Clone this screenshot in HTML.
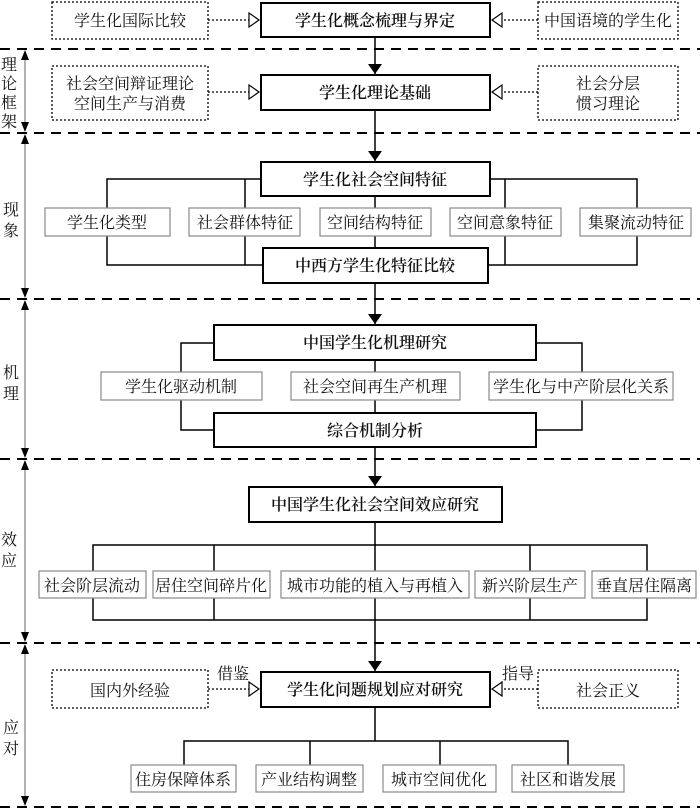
<!DOCTYPE html>
<html><head><meta charset="utf-8"><style>
html,body{margin:0;padding:0;background:#fff;}
svg{display:block;}
text{font-family:"Liberation Serif","Noto Serif CJK SC",serif;fill:#111;}
</style></head><body>
<svg width="700" height="809" viewBox="0 0 700 809" xmlns="http://www.w3.org/2000/svg">
<defs>
<marker id="fa" markerWidth="10" markerHeight="14" refX="10" refY="7" orient="auto" markerUnits="userSpaceOnUse"><path d="M0,0 L10,7 L0,14 Z" fill="#000"/></marker>
<marker id="ha" markerWidth="12" markerHeight="16" refX="12" refY="8" orient="auto" markerUnits="userSpaceOnUse"><path d="M1,1 L11,8 L1,15 Z" fill="#fff" stroke="#000" stroke-width="1.2"/></marker>
</defs>
<g stroke="#000" stroke-width="2" stroke-dasharray="10,7">
<line x1="0" y1="49" x2="700" y2="49"/><line x1="0" y1="133" x2="700" y2="133"/>
<line x1="0" y1="299" x2="700" y2="299"/><line x1="0" y1="459" x2="700" y2="459"/>
<line x1="0" y1="643" x2="700" y2="643"/><line x1="0" y1="807" x2="700" y2="807"/>
</g>
<g stroke="#666" stroke-width="1">
<line x1="25" y1="51" x2="25" y2="131"/><line x1="25" y1="135" x2="25" y2="297"/>
<line x1="25" y1="301" x2="25" y2="457"/><line x1="25" y1="461" x2="25" y2="641"/>
<line x1="25" y1="645" x2="25" y2="805"/>
</g>
<g fill="#000">
<path d="M25,50 l-4,10 h8z"/><path d="M25,132 l-4,-10 h8z"/>
<path d="M25,134 l-4,10 h8z"/><path d="M25,298 l-4,-10 h8z"/>
<path d="M25,300 l-4,10 h8z"/><path d="M25,458 l-4,-10 h8z"/>
<path d="M25,460 l-4,10 h8z"/><path d="M25,642 l-4,-10 h8z"/>
<path d="M25,644 l-4,10 h8z"/><path d="M25,806 l-4,-10 h8z"/>
</g>
<g font-size="16" text-anchor="middle">
<text x="9" y="70">理</text><text x="9" y="89">论</text><text x="9" y="108">框</text><text x="9" y="127">架</text>
<text x="11" y="215">现</text><text x="11" y="236">象</text>
<text x="11" y="378">机</text><text x="11" y="399">理</text>
<text x="9" y="545">效</text><text x="9" y="566">应</text>
<text x="11" y="733">应</text><text x="11" y="754">对</text>
</g>
<g stroke="#000" stroke-width="1.5" fill="none">
<line x1="375" y1="37" x2="375" y2="74" marker-end="url(#fa)"/>
<line x1="375" y1="110" x2="375" y2="161" marker-end="url(#fa)"/>
<line x1="375" y1="283" x2="375" y2="324" marker-end="url(#fa)"/>
<line x1="375" y1="447" x2="375" y2="486" marker-end="url(#fa)"/>
<line x1="375" y1="620" x2="375" y2="671" marker-end="url(#fa)"/>
<polyline points="261,179 107,179 107,265 263,265"/>
<polyline points="490,179 637,179 637,265 488,265"/>
<line x1="245" y1="179" x2="245" y2="265"/><line x1="505" y1="179" x2="505" y2="265"/>
<line x1="375" y1="196" x2="375" y2="248"/>
<polyline points="214,343 181,343 181,430 214,430"/>
<polyline points="536,343 582,343 582,430 536,430"/>
<line x1="375" y1="360" x2="375" y2="413"/>
<line x1="375" y1="522" x2="375" y2="620"/>
<polyline points="93,571 93,545 647,545 647,571"/>
<line x1="214" y1="545" x2="214" y2="571"/><line x1="530" y1="545" x2="530" y2="571"/>
<polyline points="93,598 93,620 647,620 647,598"/>
<line x1="214" y1="598" x2="214" y2="620"/><line x1="530" y1="598" x2="530" y2="620"/>
<line x1="375" y1="707" x2="375" y2="741"/>
<polyline points="184,765 184,741 568,741 568,765"/>
<line x1="310" y1="741" x2="310" y2="765"/><line x1="440" y1="741" x2="440" y2="765"/>
</g>
<g stroke="#000" stroke-width="1.3" stroke-dasharray="2,2" fill="#fff">
<rect x="52" y="2" width="156" height="37"/><rect x="538" y="2" width="140" height="37"/>
<rect x="52" y="66" width="156" height="54"/><rect x="538" y="66" width="140" height="54"/>
<rect x="52" y="670" width="156" height="38"/><rect x="538" y="670" width="140" height="38"/>
<line x1="208" y1="20" x2="260" y2="20" marker-end="url(#ha)"/><line x1="538" y1="20" x2="491" y2="20" marker-end="url(#ha)"/>
<line x1="208" y1="92" x2="260" y2="92" marker-end="url(#ha)"/><line x1="538" y1="92" x2="491" y2="92" marker-end="url(#ha)"/>
<line x1="208" y1="689" x2="260" y2="689" marker-end="url(#ha)"/><line x1="538" y1="689" x2="491" y2="689" marker-end="url(#ha)"/>
</g>
<g stroke="#000" stroke-width="2" fill="#fff">
<rect x="261" y="3" width="229" height="34"/>
<rect x="261" y="75" width="229" height="35"/>
<rect x="261" y="162" width="229" height="34"/>
<rect x="263" y="248" width="225" height="35"/>
<rect x="214" y="325" width="322" height="35"/>
<rect x="214" y="413" width="322" height="34"/>
<rect x="249" y="487" width="253" height="35"/>
<rect x="261" y="672" width="229" height="35"/>
</g>
<g stroke="#888" stroke-width="1.2" fill="#fff">
<rect x="45" y="208" width="125" height="28"/><rect x="189" y="208" width="111" height="28"/>
<rect x="320" y="208" width="111" height="28"/><rect x="450" y="208" width="111" height="28"/>
<rect x="580" y="208" width="111" height="28"/>
<rect x="101" y="372" width="161" height="28"/><rect x="291" y="372" width="169" height="28"/>
<rect x="489" y="372" width="184" height="28"/>
<rect x="39" y="571" width="107" height="27"/><rect x="153" y="571" width="117" height="27"/>
<rect x="281" y="571" width="188" height="27"/><rect x="475" y="571" width="110" height="27"/>
<rect x="592" y="571" width="104" height="27"/>
<rect x="131" y="765" width="105" height="27"/><rect x="256" y="765" width="107" height="27"/>
<rect x="383" y="765" width="113" height="27"/><rect x="512" y="765" width="112" height="27"/>
</g>
<g font-size="16" text-anchor="middle">
<text x="130" y="26">学生化国际比较</text><text x="608" y="26">中国语境的学生化</text>
<text x="130" y="89">社会空间辩证理论</text><text x="130" y="109">空间生产与消费</text>
<text x="608" y="89">社会分层</text><text x="608" y="109">惯习理论</text>
<text x="130" y="696">国内外经验</text><text x="608" y="696">社会正义</text>
<text x="233" y="679">借鉴</text><text x="518" y="679">指导</text>
</g>
<g font-size="16" font-weight="600" text-anchor="middle">
<text x="375" y="26">学生化概念梳理与界定</text>
<text x="375" y="98">学生化理论基础</text>
<text x="375" y="185">学生化社会空间特征</text>
<text x="375" y="271">中西方学生化特征比较</text>
<text x="375" y="348">中国学生化机理研究</text>
<text x="375" y="436">综合机制分析</text>
<text x="375" y="510">中国学生化社会空间效应研究</text>
<text x="375" y="695">学生化问题规划应对研究</text>
</g>
<g font-size="16" text-anchor="middle">
<text x="107" y="228">学生化类型</text><text x="245" y="228">社会群体特征</text>
<text x="375" y="228">空间结构特征</text><text x="505" y="228">空间意象特征</text>
<text x="636" y="228">集聚流动特征</text>
<text x="181" y="392">学生化驱动机制</text><text x="375" y="392">社会空间再生产机理</text>
<text x="581" y="392">学生化与中产阶层化关系</text>
<text x="92" y="591">社会阶层流动</text><text x="211" y="591">居住空间碎片化</text>
<text x="375" y="591">城市功能的植入与再植入</text><text x="530" y="591">新兴阶层生产</text>
<text x="644" y="591">垂直居住隔离</text>
<text x="183" y="785">住房保障体系</text><text x="309" y="785">产业结构调整</text>
<text x="439" y="785">城市空间优化</text><text x="568" y="785">社区和谐发展</text>
</g>
</svg>
</body></html>
